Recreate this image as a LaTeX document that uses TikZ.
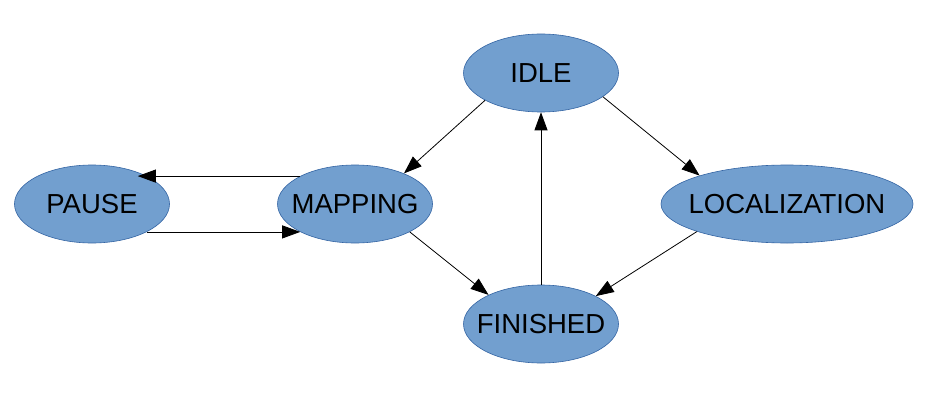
\documentclass[tikz,border=0pt]{standalone}
\usepackage{fontspec}
\setmainfont{Liberation Sans}
\usepackage{tikz}
\usetikzlibrary{arrows.meta,shapes.geometric}
\definecolor{statefill}{HTML}{729FCF}
\definecolor{stateline}{HTML}{3465A4}

\begin{document}
\begin{tikzpicture}[x=1pt,y=-1pt,
    state/.style={ellipse, draw=stateline, line width=0.6pt, fill=statefill,
      minimum width=155pt, minimum height=78pt, inner sep=0pt,
      font=\fontsize{27.5}{31}\selectfont,
      execute at begin node={\hbox to 0pt\bgroup\hss},
      execute at end node={\hss\egroup}},
    tr/.style={-{Triangle[length=18pt,width=13pt]}, line width=0.8pt}]
  \useasboundingbox[fill=white] (0,0) rectangle (952,417);
  \node[state] (idle) at (541,73) {IDLE};
  \node[state] (pause) at (92,204) {PAUSE};
  \node[state] (mapping) at (355,204) {MAPPING};
  \node[state, minimum width=252pt] (loc) at (787,204) {LOCALIZATION};
  \node[state] (fin) at (541,324) {FINISHED};
  % pause <-> mapping
  \draw[tr, shorten >=-9pt] (mapping.153) -- (pause.27);
  \draw[tr] (pause.-27) -- (mapping.207);
  % idle
  \draw[tr] (idle.206) -- (mapping.32);
  \draw[tr] (idle.-21) -- (loc.162);
  % finished
  \draw[tr] (mapping.-27) -- (fin.151);
  \draw[tr] (loc.197) -- (fin.27);
  \draw[tr] (fin.north) -- (idle.south);
\end{tikzpicture}
\end{document}
